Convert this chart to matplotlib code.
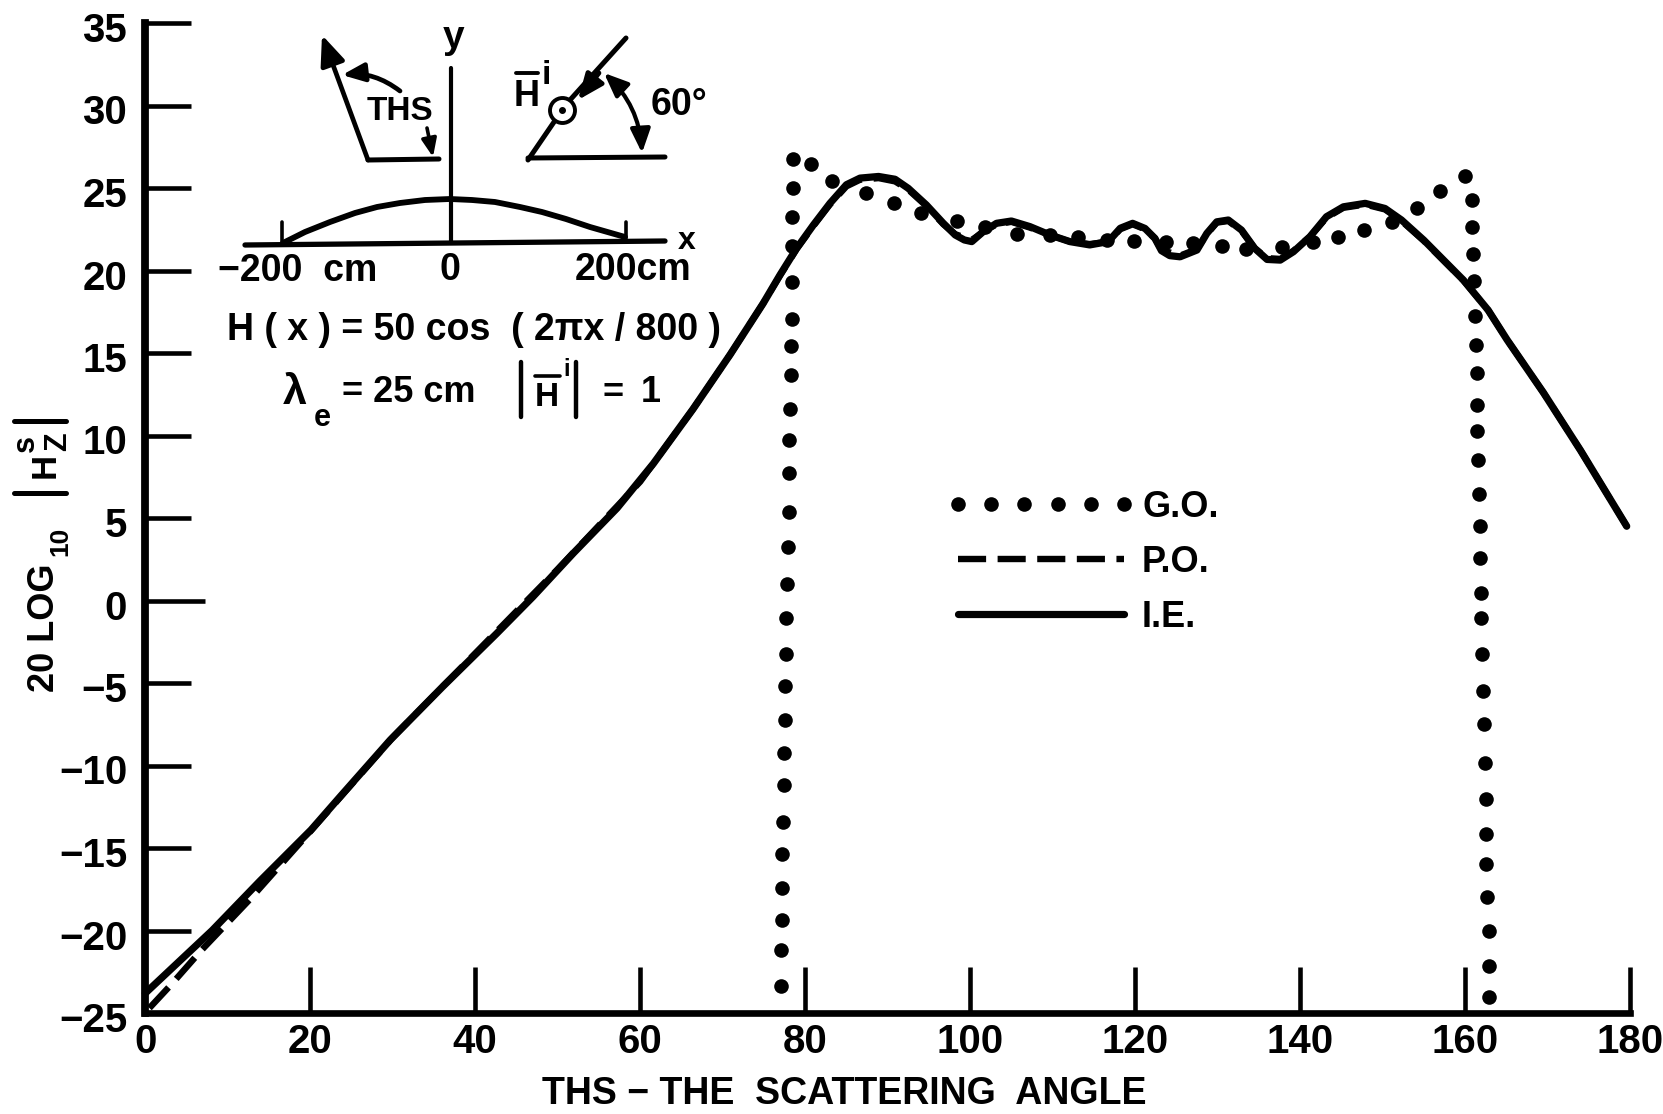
import matplotlib
matplotlib.use("Agg")
import matplotlib.pyplot as plt
from matplotlib.transforms import ScaledTranslation

plt.rcParams['font.family'] = ['Liberation Sans', 'DejaVu Sans']
plt.rcParams['font.weight'] = 'bold'

W, H = 1663, 1114
LEFT, RIGHT, TOP, BOTTOM = 145.3, 1630, 23, 1013   # plot box in pixels

# I.E. curve
ie_deg = [0, 8.1, 13.9, 20.1, 23.6, 29.7, 36.1, 42.6, 47.0, 51.9, 57.2, 61.6, 66.4, 70.9, 74.9, 76.95,
          78.97, 81.0, 83.0, 85.0, 86.65, 88.9, 90.9, 92.5, 94.7, 96.75, 98.2, 99.3, 100.2, 101.6, 103.2, 105.0,
          107.25, 109.7, 112.1, 114.5, 116.75, 118.2, 119.7, 121.2, 122.4, 123.2, 124.2, 125.45, 127.5, 128.7, 129.9,
          131.3, 132.9, 134.5, 136.0, 137.6, 139.2, 141.2, 143.2, 145.25, 147.9, 150.3, 152.3, 155.0, 157.4,
          159.8, 162.8, 165.1, 169.5, 174.0, 179.6]
ie_db = [-23.8, -20.0, -17.0, -13.9, -11.9, -8.45, -5.2, -2.0, 0.23, 2.87, 5.6, 8.3, 11.6, 14.9, 18.0, 19.73,
         21.35, 22.76, 24.07, 25.2, 25.6, 25.7, 25.53, 24.98, 23.97, 22.86, 22.15, 21.85, 21.75, 22.36, 22.86, 23.0,
         22.66, 22.15, 21.75, 21.55, 21.75, 22.56, 22.86, 22.55, 21.95, 21.2, 20.9, 20.83, 21.24, 22.25, 22.95,
         23.06, 22.45, 21.34, 20.67, 20.63, 21.14, 22.05, 23.26, 23.86, 24.07, 23.76, 23.06, 21.84, 20.63,
         19.42, 17.6, 15.8, 12.6, 9.1, 4.5]

# P.O. curve, only really visible near the start
po_deg = [0.5, 3.1, 6.8, 10.8, 12.7, 20, 30, 40, 50, 60, 66.4, 70.9, 74.9, 76.95,
          78.97, 81.0, 83.0, 85.0, 86.65, 88.9, 90.9, 92.5, 94.7, 96.75, 98.2, 100.2, 101.6, 103.2, 105.0,
          107.25, 109.7, 112.1, 114.5, 116.75, 118.2, 119.7, 121.2, 122.4, 123.2, 125.45, 127.5, 128.7, 129.9,
          131.3, 132.9, 134.5, 136.0, 137.6, 139.2, 141.2, 143.2, 145.25, 147.9, 150.3, 152.3, 155.0, 157.4,
          159.8, 162.8, 165.1, 169.5, 174.0, 179.6]
po_db = [-24.7, -23.3, -21.2, -19.1, -18.1, -14.0, -8.3, -3.2, 1.9, 7.2, 11.6, 14.9, 18.0, 19.7,
         21.3, 22.7, 24.0, 25.1, 25.5, 25.6, 25.4, 24.9, 23.9, 22.8, 22.2, 21.85, 22.35, 22.8, 22.95,
         22.6, 22.15, 21.75, 21.6, 21.75, 22.5, 22.8, 22.5, 21.95, 21.25, 20.9, 21.3, 22.2, 22.9,
         23.0, 22.4, 21.35, 20.75, 20.7, 21.2, 22.05, 23.2, 23.8, 24.0, 23.7, 23.0, 21.8, 20.6,
         19.4, 17.6, 15.8, 12.6, 9.1, 4.5]

# G.O. dots: left column, top run, right column
go_deg = [77.04, 77.04, 77.16, 77.2, 77.2, 77.35, 77.43, 77.47, 77.56, 77.6, 77.68, 77.68, 77.76, 77.89,
          78.04, 78.08, 78.08, 78.17, 78.25, 78.25, 78.37, 78.44, 78.39, 78.46, 78.57, 78.57,
          80.74, 83.27, 87.38, 90.73, 94.02, 98.43, 101.8, 105.7, 109.7, 113.1, 116.6, 119.9, 123.7,
          127.05, 130.5, 133.4, 137.75, 141.6, 144.6, 147.7, 151.1, 154.2, 157.0, 160.0,
          160.8, 160.9, 161.0, 161.1, 161.2, 161.3, 161.4, 161.5, 161.5, 161.6, 161.7, 161.8, 161.8,
          161.9, 161.9, 162.0, 162.2, 162.3, 162.4, 162.5, 162.6, 162.6, 162.7, 162.9, 162.9, 162.95]
go_db = [-23.36, -21.18, -19.36, -17.45, -15.36, -13.45, -11.18, -9.24, -7.27, -5.21, -3.24, -1.09, 1.0, 3.27,
         5.39, 7.73, 9.73, 11.61, 13.67, 15.42, 17.06, 19.33, 21.5, 23.26, 24.98, 26.76,
         26.48, 25.43, 24.72, 24.1, 23.49, 22.97, 22.64, 22.24, 22.14, 22.04, 21.83, 21.79, 21.73,
         21.67, 21.49, 21.33, 21.43, 21.73, 22.04, 22.48, 22.95, 23.79, 24.8, 25.73,
         24.27, 22.66, 21.0, 19.36, 17.26, 15.48, 13.8, 11.85, 10.27, 8.5, 6.45, 4.5, 2.6,
         0.44, -1.04, -3.26, -5.48, -7.48, -9.85, -12.03, -14.15, -15.95, -17.99, -20.01, -22.13, -24.0]

x_ticks = list(range(0, 181, 20))
y_ticks = list(range(-25, 36, 5))
y_labels = ['\u221225', '\u221220', '\u221215', '\u221210', '\u22125', '0', '5', '10', '15', '20', '25', '30', '35']

# arc of the scatterer in the inset sketch, picture pixels
arc_x = [283, 305, 330, 355, 377, 400, 425, 450, 472, 495, 520, 542, 566, 590, 625]
arc_y = [243, 232, 222, 213, 207, 203, 200, 199, 200, 202, 207, 212, 219, 227, 237]

fig = plt.figure(figsize=(W / 100, H / 100), dpi=100, facecolor='white')
ax = fig.add_axes([LEFT / W, 1 - BOTTOM / H, (RIGHT - LEFT) / W, (BOTTOM - TOP) / H])
ax.set_xlim(0, 180)
ax.set_ylim(-25, 35)

ie_line, = ax.plot(ie_deg, ie_db, color='k', lw=5.2, solid_joinstyle='round', solid_capstyle='round', label='I.E.', clip_on=False)
po_line, = ax.plot(po_deg, po_db, color='k', lw=4.6, dashes=(4.4, 1.8), label='P.O.', clip_on=False)
go_line, = ax.plot(go_deg, go_db, color='k', ls='none', marker='o', ms=10.5, mew=0, label='G.O.', clip_on=False)

for side in ['top', 'right']:
    ax.spines[side].set_visible(False)
ax.spines['left'].set_linewidth(5.6)
ax.spines['bottom'].set_linewidth(4.8)

ax.set_xticks(x_ticks)
ax.set_yticks(y_ticks)
ax.set_yticklabels(y_labels)
ax.tick_params(axis='both', direction='in', length=33, width=3.3, color='k', labelsize=29)
ax.tick_params(axis='y', pad=13)
ax.tick_params(axis='x', pad=7)
ax.yaxis.get_major_ticks()[5].tick1line.set_markersize(43)   # the 0 tick is longer
ax.yaxis.get_major_ticks()[0].tick1line.set_visible(False)
ax.xaxis.get_major_ticks()[0].tick1line.set_visible(False)

shift = ScaledTranslation(0, -4 / 100, fig.dpi_scale_trans)
for lab in ax.get_yticklabels():
    lab.set_transform(lab.get_transform() + shift)

ax.set_xlabel('THS \u2212 THE  SCATTERING  ANGLE', fontsize=27, fontweight='bold')
ax.xaxis.set_label_coords((844 - LEFT) / (RIGHT - LEFT), -(1094 - BOTTOM) / (BOTTOM - TOP), transform=ax.transAxes)
ax.xaxis.label.set_va('center')

ax.legend([go_line, po_line, ie_line], ['G.O.', 'P.O.', 'I.E.'], frameon=False, numpoints=6, fontsize=26,
          handlelength=5.2, handletextpad=0.2, labelspacing=0.55, borderpad=0, borderaxespad=0,
          loc='upper left', bbox_to_anchor=(947 / W, 1 - 490 / H), bbox_transform=fig.transFigure)

# overlay in picture pixels for the hand drawn sketch and lettering
ov = fig.add_axes([0, 0, 1, 1], facecolor='none')
ov.set_xlim(0, W)
ov.set_ylim(H, 0)
ov.axis('off')


def stroke(xs, ys, lw=3.6):
    ov.plot(xs, ys, color='k', lw=lw, solid_capstyle='round')


def word(x, y, s, size=27, rot=0):
    ov.text(x, y, s, fontsize=size, ha='center', va='center', rotation=rot)


def arrow(tail, tip, rad=0.0, style='-|>,head_length=0.6,head_width=0.25', scale=30, lw=3.4):
    ov.annotate('', xy=tip, xytext=tail, xycoords='data', textcoords='data',
                arrowprops=dict(arrowstyle=style, mutation_scale=scale, color='k', lw=lw,
                                shrinkA=0, shrinkB=0, connectionstyle='arc3,rad=%s' % rad))


# axes of the sketch
stroke([450.5, 450.5], [68, 242], 3.0)
stroke([245, 665], [245, 241], 3.8)
stroke([281.6, 281.6], [222, 245], 2.6)
stroke([626.4, 626.4], [222, 238], 2.6)
stroke(arc_x, arc_y, 4.2)
word(687, 241, 'x', 23)
word(454, 38, 'y', 28)
word(298, 271, '\u2212200  cm', 27)
word(450, 270, '0', 27)
word(633, 270, '200cm', 27)

# scattering angle wedge
stroke([368, 439], [160, 159])
arrow((368, 160), (322, 35))
arrow((400, 91), (342, 75), rad=0.2, scale=22)
arrow((427, 128), (433, 157), scale=18, lw=2.6)
word(400, 112, 'THS', 24)

# incident direction
stroke([626, 570], [38, 100])
stroke([554, 528], [122, 160])
stroke([528, 665], [158, 157])
arrow((599, 73), (578, 100), scale=26)
ov.plot([562], [110], marker='o', ms=18, mfc='white', mec='k', mew=2.8)
ov.plot([562], [110], marker='o', ms=4, color='k')
arrow((604, 73), (642, 153), rad=-0.2, style='<|-|>,head_length=0.6,head_width=0.25', scale=24, lw=3.0)
word(527, 96, 'H', 26)
stroke([516, 538], [73, 73], 2.8)
word(546, 76, 'i', 24)
word(679, 105, '60\u00b0', 27)

# formula lines
word(474, 330, 'H ( x ) = 50 cos  ( 2\u03c0x / 800 )', 27)
word(295, 393, '\u03bb', 31)
word(322, 418, 'e', 22)
word(409, 393, '= 25 cm', 26)
stroke([521, 521], [362, 417], 3.2)
stroke([576, 576], [362, 417], 3.2)
word(547, 397, 'H', 24)
stroke([535, 560], [376, 376], 2.6)
word(567, 369, 'i', 17)
word(613, 394, '=', 26)
word(651, 393, '1', 26)

# y label put together from rotated pieces
word(45, 628, '20 LOG', 26, 90)
word(60, 541, '10', 19, 90)
stroke([14, 66], [493, 493], 3.6)
stroke([14, 66], [421, 421], 3.6)
word(45, 465, 'H', 25, 90)
word(58, 442, 'Z', 22, 90)
word(26, 443, 's', 22, 90)

fig.savefig('out.png', dpi=100, facecolor='white')
